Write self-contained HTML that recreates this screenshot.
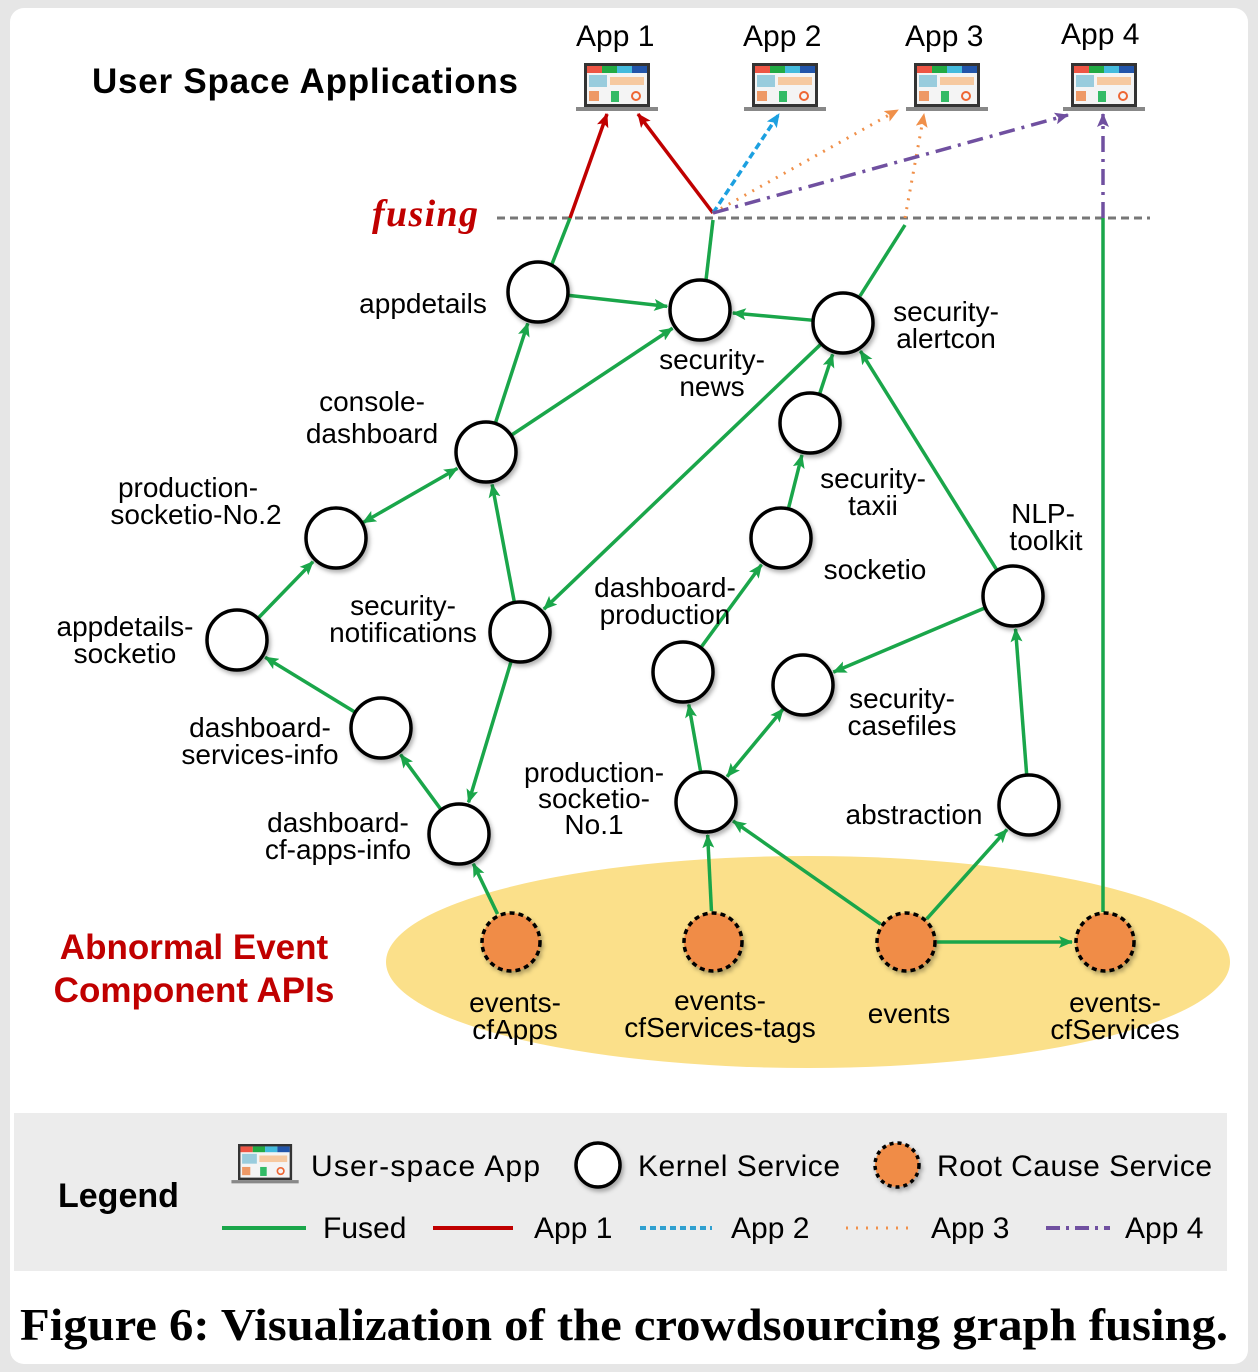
<!DOCTYPE html>
<html><head><meta charset="utf-8">
<style>
html,body{margin:0;padding:0;background:#e6e6e6;}
svg{display:block;}
text{font-family:"Liberation Sans",sans-serif;fill:#000;}
</style></head>
<body>
<svg id="s" width="1258" height="1372" viewBox="0 0 1258 1372" xmlns="http://www.w3.org/2000/svg">
<defs>
<marker id="ag" markerWidth="14" markerHeight="12" refX="13" refY="6" orient="auto" markerUnits="userSpaceOnUse" viewBox="0 0 14 12"><path d="M0,0 L14,6 L0,12 L3,6 z" fill="#1aa64a"/></marker>
<marker id="ags" markerWidth="14" markerHeight="12" refX="1" refY="6" orient="auto" markerUnits="userSpaceOnUse" viewBox="0 0 14 12"><path d="M14,0 L0,6 L14,12 L11,6 z" fill="#1aa64a"/></marker>
<marker id="ar" markerWidth="14" markerHeight="12" refX="13" refY="6" orient="auto" markerUnits="userSpaceOnUse" viewBox="0 0 14 12"><path d="M0,0 L14,6 L0,12 L3,6 z" fill="#c00000"/></marker>
<marker id="ab" markerWidth="14" markerHeight="12" refX="13" refY="6" orient="auto" markerUnits="userSpaceOnUse" viewBox="0 0 14 12"><path d="M0,0 L14,6 L0,12 L3,6 z" fill="#1ca0e0"/></marker>
<marker id="ao" markerWidth="14" markerHeight="12" refX="13" refY="6" orient="auto" markerUnits="userSpaceOnUse" viewBox="0 0 14 12"><path d="M0,0 L14,6 L0,12 L3,6 z" fill="#f0904a"/></marker>
<marker id="ap" markerWidth="14" markerHeight="12" refX="13" refY="6" orient="auto" markerUnits="userSpaceOnUse" viewBox="0 0 14 12"><path d="M0,0 L14,6 L0,12 L3,6 z" fill="#7050a0"/></marker>
<filter id="sh" x="-30%" y="-30%" width="160%" height="160%"><feDropShadow dx="2" dy="3" stdDeviation="2" flood-color="#000" flood-opacity="0.3"/></filter>
<g id="lap">
<rect x="0" y="0" width="66" height="44" fill="#333"/>
<rect x="3" y="3" width="60" height="38" fill="#f4f4f4"/>
<rect x="3" y="3" width="15" height="7" fill="#e54"/><rect x="18" y="3" width="15" height="7" fill="#2a4"/><rect x="33" y="3" width="15" height="7" fill="#4bd"/><rect x="48" y="3" width="15" height="7" fill="#25a"/>
<rect x="5" y="12" width="18" height="12" fill="#9cd"/><rect x="26" y="14" width="34" height="8" fill="#f6c9a0"/>
<rect x="5" y="28" width="10" height="10" fill="#e96"/><rect x="27" y="28" width="8" height="11" fill="#3b6"/><circle cx="52" cy="33" r="4" fill="none" stroke="#e63" stroke-width="2"/>
<rect x="-8" y="44" width="82" height="4" fill="#888"/>
</g>
</defs>
<rect x="10" y="8" width="1238" height="1356" rx="14" fill="#fff"/>
<text x="92" y="93" font-size="35" font-weight="bold" textLength="426">User Space Applications</text>
<g font-size="30"><text x="576" y="46">App 1</text><text x="743" y="46">App 2</text><text x="905" y="46">App 3</text><text x="1061" y="44">App 4</text></g>
<use href="#lap" x="584" y="63"/><use href="#lap" x="752" y="63"/><use href="#lap" x="914" y="63"/><use href="#lap" x="1071" y="63"/>
<text x="372" y="226" font-size="38" font-style="italic" font-weight="bold" textLength="106" style="fill:#c00000;font-family:'Liberation Serif',serif">fusing</text>
<line x1="497" y1="218" x2="1150" y2="218" stroke="#777" stroke-width="3" stroke-dasharray="8,5"/>
<ellipse cx="808" cy="962" rx="422" ry="106" fill="#fbe08a"/>
<g id="edges"></g>
<g id="nodes"></g>
<g font-size="28" text-anchor="middle">
<text x="423" y="313">appdetails</text>
<text x="712" y="369">security-</text><text x="712" y="396">news</text>
<text x="946" y="321">security-</text><text x="946" y="348">alertcon</text>
<text x="372" y="411">console-</text><text x="372" y="443">dashboard</text>
<text x="873" y="488">security-</text><text x="873" y="515">taxii</text>
<text x="188" y="497">production-</text><text x="196" y="524">socketio-No.2</text>
<text x="875" y="579">socketio</text>
<text x="1043" y="523">NLP-</text><text x="1046" y="550">toolkit</text>
<text x="125" y="636">appdetails-</text><text x="125" y="663">socketio</text>
<text x="403" y="615">security-</text><text x="403" y="642">notifications</text>
<text x="665" y="597">dashboard-</text><text x="665" y="624">production</text>
<text x="902" y="708">security-</text><text x="902" y="735">casefiles</text>
<text x="260" y="737">dashboard-</text><text x="260" y="764">services-info</text>
<text x="594" y="782">production-</text><text x="594" y="808">socketio-</text><text x="594" y="834">No.1</text>
<text x="914" y="824">abstraction</text>
<text x="338" y="832">dashboard-</text><text x="338" y="859">cf-apps-info</text>
<text x="515" y="1012">events-</text><text x="515" y="1039">cfApps</text>
<text x="720" y="1010">events-</text><text x="720" y="1037">cfServices-tags</text>
<text x="909" y="1023">events</text>
<text x="1115" y="1012">events-</text><text x="1115" y="1039">cfServices</text>
</g>
<g font-size="35" font-weight="bold" text-anchor="middle">
<text x="194" y="959" style="fill:#c00000">Abnormal Event</text>
<text x="194" y="1002" style="fill:#c00000">Component APIs</text>
</g>
<rect x="14" y="1113" width="1213" height="158" fill="#ececec"/>
<text x="58" y="1207" font-size="34" font-weight="bold">Legend</text>
<use href="#lap" x="238" y="1144" transform="translate(238,1144) scale(0.82) translate(-238,-1144)"/>
<g font-size="30">
<text x="311" y="1176" textLength="229">User-space App</text>
<text x="638" y="1176" textLength="202">Kernel Service</text>
<text x="937" y="1176" textLength="275">Root Cause Service</text>
<text x="323" y="1238">Fused</text>
<text x="534" y="1238">App 1</text>
<text x="731" y="1238">App 2</text>
<text x="931" y="1238">App 3</text>
<text x="1125" y="1238">App 4</text>
</g>
<ellipse cx="598" cy="1165" rx="22" ry="22" fill="#fff" stroke="#000" stroke-width="3.5" filter="url(#sh)"/>
<ellipse cx="897" cy="1165" rx="22" ry="22" fill="#f08c46" stroke="#000" stroke-width="3.5" stroke-dasharray="4,4" filter="url(#sh)"/>
<line x1="222" y1="1228" x2="306" y2="1228" stroke="#1aa64a" stroke-width="4"/>
<line x1="433" y1="1228" x2="513" y2="1228" stroke="#c00000" stroke-width="4"/>
<line x1="640" y1="1228" x2="712" y2="1228" stroke="#30a0d0" stroke-width="4" stroke-dasharray="6,4"/>
<line x1="846" y1="1228" x2="912" y2="1228" stroke="#f0904a" stroke-width="3" stroke-dasharray="2,8"/>
<line x1="1046" y1="1228" x2="1110" y2="1228" stroke="#7050a0" stroke-width="4" stroke-dasharray="14,6,3,6"/>
<text x="20" y="1340" font-size="46" font-weight="bold" textLength="1208" lengthAdjust="spacingAndGlyphs" style="font-family:'Liberation Serif',serif">Figure 6:  Visualization of the crowdsourcing graph fusing.</text>
</svg>
<script>
var N={ad:[538,292],sn:[700,310],sa:[843,323],cd:[486,452],st:[810,423],p2:[336,538],so:[781,538],nlp:[1013,596],as:[237,640],sno:[520,632],dp:[683,672],sc:[803,685],dsi:[381,728],p1:[706,802],ab:[1029,805],dca:[459,834],
r1:[511,942],r2:[713,942],r3:[906,942],r4:[1105,942]};
var R=30,NS="http://www.w3.org/2000/svg";
var E=[['r1','dca'],['dca','dsi'],['dsi','as'],['as','p2'],['p2','cd',1],['sno','cd'],['sno','dca'],['cd','ad'],['cd','sn'],['ad','sn'],['sa','sn'],['sa','sno'],['st','sa'],['so','st'],['dp','so'],['nlp','sa'],['nlp','sc'],['sc','p1',1],['p1','dp'],['r2','p1'],['r3','p1'],['r3','ab'],['ab','nlp'],['r3','r4']];
var eg=document.getElementById('edges'),ng=document.getElementById('nodes');
function ln(x1,y1,x2,y2,c,w,da,me,ms){var l=document.createElementNS(NS,'line');l.setAttribute('x1',x1);l.setAttribute('y1',y1);l.setAttribute('x2',x2);l.setAttribute('y2',y2);l.setAttribute('stroke',c);l.setAttribute('stroke-width',w);if(da)l.setAttribute('stroke-dasharray',da);if(me)l.setAttribute('marker-end','url(#'+me+')');if(ms)l.setAttribute('marker-start','url(#'+ms+')');eg.appendChild(l);}
E.forEach(function(e){var a=N[e[0]],b=N[e[1]],dx=b[0]-a[0],dy=b[1]-a[1],d=Math.hypot(dx,dy),ux=dx/d,uy=dy/d;
ln(a[0]+ux*(R+1),a[1]+uy*(R+1),b[0]-ux*(R+3),b[1]-uy*(R+3),'#1aa64a',3.5,null,'ag',e[2]?'ags':null);});
ln(552,264,570,218,'#1aa64a',3.5);ln(706,280,713,220,'#1aa64a',3.5);ln(860,296,905,225,'#1aa64a',3.5);ln(1103,912,1103,218,'#1aa64a',3.5);
ln(570,218,607,114,'#c00000',3.5,null,'ar');ln(713,213,638,114,'#c00000',3.5,null,'ar');
ln(713,213,779,114,'#1ca0e0',3.5,'7,4','ab');
ln(713,213,898,110,'#f0904a',3,'2,7','ao');ln(905,218,924,114,'#f0904a',3,'2,7','ao');
ln(713,213,1068,115,'#7050a0',3.5,'16,7,3,7','ap');ln(1103,218,1103,114,'#7050a0',3.5,'16,7,3,7','ap');
for(var k in N){var c=document.createElementNS(NS,'circle'),p=N[k],root=k[0]=='r';c.setAttribute('cx',p[0]);c.setAttribute('cy',p[1]);c.setAttribute('r',root?29:R);c.setAttribute('fill',root?'#f08c46':'#fff');c.setAttribute('stroke','#000');c.setAttribute('stroke-width',3.5);if(root)c.setAttribute('stroke-dasharray','5,4');c.setAttribute('filter','url(#sh)');ng.appendChild(c);}
</script>
</body></html>
